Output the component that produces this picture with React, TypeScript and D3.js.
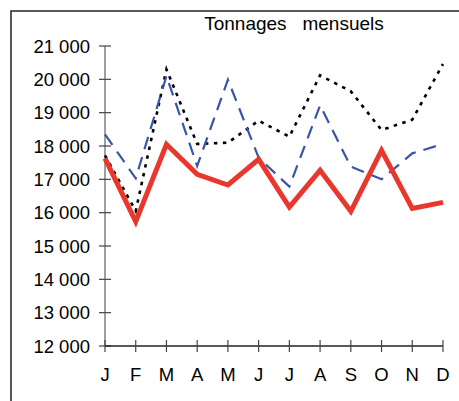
import React from "react";
import * as d3 from "d3";

const months = ["J", "F", "M", "A", "M", "J", "J", "A", "S", "O", "N", "D"];
const yTicks = [12000, 13000, 14000, 15000, 16000, 17000, 18000, 19000, 20000, 21000];
const title = "Tonnages   mensuels";

const redSeries = [17630, 15730, 18050, 17150, 16830, 17600, 16170, 17270, 16040, 17870, 16130, 16310];
const blueSeries = [18350, 17030, 20100, 17400, 19990, 17650, 16780, 19220, 17380, 17000, 17780, 18060];
const blackSeries = [17720, 16050, 20300, 18060, 18100, 18760, 18280, 20120, 19640, 18480, 18790, 20460];

const fmt = (v: number) => {
  const s = String(v);
  return s.slice(0, s.length - 3) + " " + s.slice(-3);
};

export default function App() {
  const idx = months.map((_, i) => String(i));
  const x = d3.scalePoint<string>().domain(idx).range([105, 443]).padding(0);
  const y = d3.scaleLinear().domain([12000, 21000]).range([346, 46]);
  const line = d3
    .line<number>()
    .x((_, i) => x(String(i)) as number)
    .y((d) => y(d));
  const font = "'Liberation Sans', Arial, Helvetica, sans-serif";
  return (
    <svg
      width={459}
      height={401}
      style={{ position: "absolute", left: 0, top: 0, background: "#fff" }}
    >
      <rect x={11} y={11} width={600} height={600} fill="none" stroke="#222" strokeWidth={1.5} />
      <text x={294} y={30} textAnchor="middle" fontFamily={font} fontSize={19} fill="#000" style={{ whiteSpace: "pre" }}>
        {title}
      </text>
      {/* y axis */}
      <line x1={105} x2={105} y1={y(21000)} y2={y(12000)} stroke="#777" strokeWidth={1.4} />
      {yTicks.map((t) => (
        <g key={t}>
          <line x1={99} x2={111} y1={y(t)} y2={y(t)} stroke="#444" strokeWidth={1.2} />
          <text x={90} y={y(t)} dy="0.36em" textAnchor="end" fontFamily={font} fontSize={18.5} fill="#000">
            {fmt(t)}
          </text>
        </g>
      ))}
      {/* x axis */}
      <line x1={105} x2={443} y1={346} y2={346} stroke="#222" strokeWidth={1.3} />
      {months.map((m, i) => (
        <g key={i}>
          <line x1={x(String(i))} x2={x(String(i))} y1={340} y2={352} stroke="#444" strokeWidth={1.2} />
          <text x={x(String(i))} y={381} textAnchor="middle" fontFamily={font} fontSize={18.5} fill="#000">
            {m}
          </text>
        </g>
      ))}
      <path d={line(blackSeries) || ""} fill="none" stroke="#000" strokeWidth={2.6} strokeDasharray="3.5 5.5" />
      <path d={line(blueSeries) || ""} fill="none" stroke="#3a55a8" strokeWidth={2.2} strokeDasharray="13 8" />
      <path d={line(redSeries) || ""} fill="none" stroke="#e8382e" strokeWidth={5} strokeLinejoin="miter" />
    </svg>
  );
}
